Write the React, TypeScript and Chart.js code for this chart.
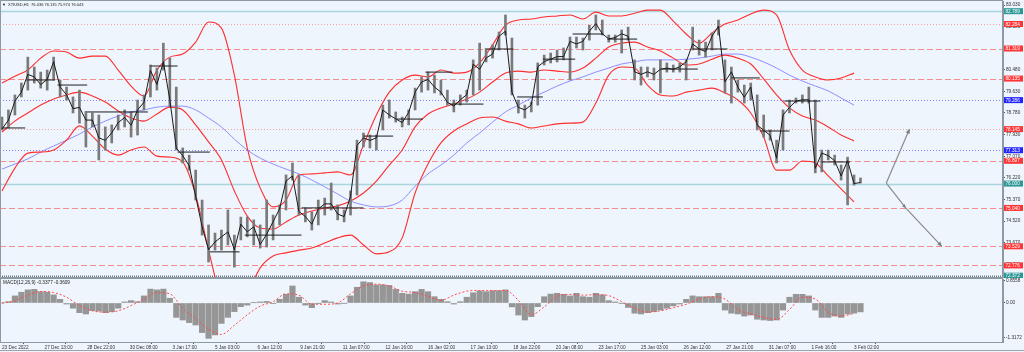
import React, { useEffect, useRef } from "react";
import { Chart, registerables } from "chart.js";

Chart.register(...registerables);

// ---------- data ----------
const xLabels = ["23 Dec 2022", "27 Dec 13:00", "28 Dec 22:00", "30 Dec 08:00", "3 Jan 17:00", "5 Jan 03:00", "6 Jan 12:00", "9 Jan 21:00", "11 Jan 07:00", "12 Jan 16:00", "16 Jan 02:00", "17 Jan 13:00", "18 Jan 22:00", "20 Jan 08:00", "23 Jan 17:00", "25 Jan 03:00", "26 Jan 12:00", "27 Jan 21:00", "31 Jan 07:00", "1 Feb 16:00", "3 Feb 02:00"];
const barsPerLabel = 33;
const priceStep = 5; // H1 bars per price sample
const bandStep = 10; // H1 bars per indicator sample

const highs = [78.62, 78.90, 79.49, 79.96, 80.98, 80.59, 80.39, 80.47, 80.98, 80.08,
  79.80, 79.41, 79.68, 78.78, 78.78, 78.70, 78.23, 78.31, 78.70, 78.90,
  78.82, 79.29, 79.49, 80.67, 80.55, 81.53, 80.94, 79.80, 77.40, 77.12,
  76.53, 75.35, 74.37, 74.05, 74.17, 74.96, 73.97, 74.68, 74.68, 74.57,
  74.37, 75.35, 74.76, 75.16, 76.34, 76.81, 76.34, 75.04, 74.88, 75.35,
  75.43, 76.02, 75.16, 74.96, 75.71, 77.71, 77.99, 77.91, 77.91, 79.09,
  79.29, 78.82, 78.62, 78.90, 79.76, 80.20, 80.39, 80.27, 80.08, 79.68,
  79.29, 79.49, 79.68, 80.87, 81.53, 81.26, 81.46, 81.97, 82.64, 81.73,
  79.29, 79.09, 79.21, 80.75, 81.06, 81.14, 81.26, 81.34, 81.77, 81.77,
  81.73, 82.24, 82.64, 82.44, 81.85, 81.85, 82.05, 82.16, 80.87, 80.59,
  80.59, 80.55, 80.87, 80.75, 80.67, 80.75, 80.87, 82.16, 81.65, 81.57,
  81.93, 82.44, 80.87, 80.59, 80.08, 79.88, 79.96, 79.49, 78.70, 78.11,
  77.71, 78.90, 79.29, 79.37, 79.49, 79.80, 79.29, 77.32, 77.32, 77.12,
  76.73, 77.04, 76.34, 76.22];

const lows = [78.11, 78.19, 78.70, 79.41, 79.68, 79.96, 79.76, 79.68, 80.08, 79.41,
  79.29, 78.78, 78.38, 77.44, 78.23, 76.93, 77.32, 77.60, 78.11, 78.23,
  77.83, 77.91, 78.90, 79.41, 79.68, 80.47, 79.01, 77.32, 76.81, 76.53,
  75.35, 73.97, 72.91, 73.38, 73.38, 73.58, 72.71, 73.78, 73.90, 73.58,
  73.46, 73.50, 73.78, 74.37, 74.96, 76.14, 74.76, 74.49, 74.17, 74.37,
  74.76, 74.96, 74.57, 74.49, 74.76, 75.55, 77.44, 77.40, 77.32, 78.11,
  78.58, 78.42, 78.23, 78.31, 78.90, 79.60, 79.68, 79.57, 79.49, 79.09,
  78.82, 79.09, 79.21, 79.49, 79.68, 80.79, 80.94, 81.26, 81.85, 79.49,
  78.78, 78.58, 78.82, 79.09, 80.67, 80.75, 80.79, 80.87, 80.08, 81.34,
  81.26, 81.65, 82.05, 81.85, 81.57, 81.57, 81.14, 81.65, 80.08, 79.88,
  80.20, 80.08, 79.57, 80.39, 80.39, 80.39, 80.08, 81.26, 81.06, 80.98,
  81.26, 81.85, 79.57, 79.17, 79.60, 79.17, 79.29, 78.11, 77.83, 77.71,
  76.81, 77.32, 78.78, 79.17, 79.17, 79.17, 76.42, 76.46, 76.93, 76.73,
  76.14, 75.16, 75.94, 76.02];

const closes = [78.15, 78.50, 79.25, 79.60, 80.30, 80.20, 79.90, 80.10, 80.80, 79.80,
  79.50, 78.95, 79.00, 78.50, 78.50, 77.80, 77.70, 78.00, 78.40, 78.60,
  78.30, 78.90, 79.20, 80.45, 79.90, 80.80, 79.30, 77.40, 77.10, 76.70,
  75.50, 74.30, 73.40, 73.70, 73.90, 74.10, 73.40, 74.40, 74.10, 74.30,
  73.60, 74.00, 74.50, 75.00, 76.10, 76.30, 74.90, 74.70, 74.40, 75.00,
  75.20, 75.20, 74.80, 74.70, 75.50, 77.50, 77.80, 77.70, 77.80, 78.90,
  78.70, 78.55, 78.40, 78.80, 79.60, 80.00, 80.10, 79.80, 79.60, 79.20,
  79.05, 79.30, 79.50, 80.70, 80.50, 80.95, 81.10, 81.80, 82.00, 79.60,
  79.00, 78.90, 79.10, 80.60, 80.80, 80.90, 81.00, 81.00, 81.60, 81.50,
  81.60, 82.00, 82.30, 81.90, 81.70, 81.75, 81.90, 81.80, 80.40, 80.30,
  80.40, 80.30, 80.50, 80.55, 80.50, 80.60, 80.80, 81.50, 81.30, 81.20,
  81.80, 82.20, 80.00, 80.40, 79.80, 79.40, 79.80, 78.30, 78.10, 77.90,
  77.00, 78.70, 79.00, 79.25, 79.30, 79.30, 76.60, 77.20, 77.10, 76.90,
  76.30, 76.90, 76.00, 76.04];

const upperBand = [79.96, 80.23, 80.47, 80.94, 81.22, 81.18, 80.94, 81.02, 81.02, 80.47,
  79.84, 79.45, 80.47, 80.98, 81.10, 81.57, 82.36, 82.12, 80.27, 77.40,
  75.83, 75.08, 75.35, 76.34, 76.38, 76.42, 76.46, 76.34, 77.52, 78.70,
  79.60, 80.08, 80.27, 80.20, 80.47, 80.35, 80.39, 80.75, 81.46, 82.24,
  82.44, 82.48, 82.56, 82.60, 82.64, 82.48, 82.75, 82.60, 82.60, 82.71,
  82.83, 82.83, 82.40, 81.89, 81.53, 81.93, 82.28, 82.44, 82.68, 82.83,
  82.64, 81.26, 80.47, 80.20, 80.08, 80.16, 80.35];

const midBand = [78.03, 78.46, 78.78, 79.09, 79.33, 79.49, 79.60, 79.45, 79.21, 78.86,
  78.58, 78.46, 78.74, 79.01, 78.90, 78.31, 77.64, 76.93, 75.71, 74.72,
  74.25, 74.21, 74.49, 74.76, 74.92, 75.04, 75.12, 75.31, 75.63, 76.10,
  76.73, 77.32, 78.23, 78.74, 78.98, 79.13, 79.33, 79.60, 80.00, 80.35,
  80.43, 80.39, 80.47, 80.43, 80.39, 80.55, 80.94, 81.38, 81.53, 81.57,
  81.38, 81.22, 80.94, 80.67, 80.71, 80.90, 81.06, 80.94, 80.71, 80.12,
  79.49, 78.98, 78.66, 78.50, 78.23, 77.91, 77.68];

const lowerBand = [75.71, 76.61, 77.20, 77.24, 77.32, 77.71, 78.27, 77.87, 77.36, 77.12,
  77.32, 77.44, 77.08, 77.04, 76.85, 75.55, 73.38, 71.42, 70.63, 71.61,
  72.68, 73.15, 73.27, 73.38, 73.46, 73.66, 73.86, 73.97, 73.58, 73.23,
  73.31, 73.86, 75.63, 76.77, 77.60, 78.07, 78.35, 78.58, 78.62, 78.46,
  78.35, 78.19, 78.27, 78.35, 78.38, 78.42, 79.17, 80.27, 80.59, 80.55,
  79.88, 79.49, 79.45, 79.60, 79.68, 79.76, 79.57, 79.29, 78.78, 77.83,
  76.53, 76.53, 76.89, 76.81, 76.30, 75.79, 75.28];

const slowMA = [76.57, 76.77, 76.97, 77.24, 77.48, 77.71, 77.95, 78.23, 78.46, 78.66,
  78.82, 78.90, 79.01, 79.05, 79.05, 78.90, 78.58, 78.23, 77.75, 77.32,
  77.00, 76.77, 76.57, 76.38, 76.14, 75.87, 75.59, 75.31, 75.16, 75.08,
  75.12, 75.35, 75.90, 76.38, 76.73, 77.12, 77.60, 77.99, 78.42, 78.82,
  79.09, 79.37, 79.60, 79.84, 80.04, 80.20, 80.39, 80.55, 80.71, 80.79,
  80.87, 80.87, 80.87, 80.90, 80.94, 81.02, 81.10, 81.10, 80.98, 80.79,
  80.55, 80.27, 80.04, 79.84, 79.65, 79.37, 79.09];

const macdHist = [0.00, 0.05, 0.27, 0.41, 0.50, 0.52, 0.43, 0.41, 0.31, 0.14,
  -0.04, -0.20, -0.37, -0.42, -0.29, -0.31, -0.37, -0.33, -0.20, 0.04,
  0.09, 0.05, 0.27, 0.53, 0.50, 0.53, 0.18, -0.55, -0.65, -0.75,
  -0.84, -1.13, -1.35, -1.22, -0.78, -0.55, -0.33, -0.14, -0.08, 0.01,
  0.04, 0.06, -0.01, 0.14, 0.33, 0.65, 0.22, -0.08, -0.18, -0.01,
  0.09, 0.04, -0.04, -0.01, 0.27, 0.60, 0.81, 0.78, 0.69, 0.69,
  0.67, 0.52, 0.37, 0.34, 0.43, 0.52, 0.43, 0.24, 0.14, 0.05,
  -0.04, 0.05, 0.22, 0.39, 0.46, 0.43, 0.47, 0.47, 0.50, -0.15,
  -0.46, -0.65, -0.52, -0.14, 0.24, 0.34, 0.37, 0.33, 0.27, 0.37,
  0.24, 0.22, 0.37, 0.31, 0.09, 0.04, -0.01, -0.17, -0.39, -0.42,
  -0.37, -0.33, -0.27, -0.20, -0.11, -0.04, 0.14, 0.27, 0.24, 0.24,
  0.24, 0.37, -0.27, -0.39, -0.42, -0.50, -0.46, -0.62, -0.65, -0.67,
  -0.65, -0.27, 0.22, 0.33, 0.33, 0.27, -0.27, -0.55, -0.55, -0.50,
  -0.55, -0.42, -0.39, -0.34];

const macdSignal = [0.00, 0.08, 0.30, 0.44, 0.40, 0.22, -0.10, -0.30, -0.35, -0.30,
  -0.10, 0.15, 0.40, 0.35, -0.20, -0.60, -1.00, -1.20, -0.85, -0.45,
  -0.12, 0.05, 0.35, 0.30, -0.05, -0.05, 0.00, 0.35, 0.65, 0.72,
  0.65, 0.45, 0.40, 0.25, 0.10, 0.30, 0.45, 0.48, 0.47, 0.48,
  0.10, -0.45, -0.15, 0.25, 0.33, 0.30, 0.32, 0.28, 0.05, -0.20,
  -0.35, -0.30, -0.18, -0.05, 0.15, 0.24, 0.15, -0.25, -0.42, -0.55,
  -0.63, -0.25, 0.22, 0.15, -0.35, -0.50, -0.40];

const dayOpenStart = [0, 19, 43, 64, 115, 136, 161, 188, 232, 280, 306, 328, 347, 374, 399, 419, 442, 469, 511, 535, 565, 587, 606, 635];
const dayOpenEnd = [18, 41, 66, 113, 136, 161, 184, 232, 280, 303, 326, 349, 373, 396, 419, 444, 466, 492, 539, 562, 587, 610, 634, 657];
const dayOpenPrice = [78.19, 80.08, 79.88, 78.82, 80.63, 77.24, 73.31, 73.97, 75.04, 77.87, 78.54, 80.39, 79.13, 81.30, 79.41, 80.90, 81.89, 81.69, 80.51, 81.30, 80.16, 78.07, 79.25, 76.85];

const levelPrices = [82.789, 82.284, 81.319, 80.135, 79.286, 78.145, 77.313, 76.897, 76.0, 75.04, 73.529, 72.776, 72.372];
const levelKinds = ["teal", "pink", "red", "red", "blue", "pink", "blue", "red", "teal", "red", "red", "red", "base"];

const priceTicks = [83.03, 82.18, 81.33, 80.48, 79.63, 78.78, 77.93, 77.07, 76.22, 75.37, 74.52, 73.67, 72.82];
const macdTicks = [0.8558, 0, -1.3172];
const macdTickLabels = ["0.8558", "0.00", "-1.3172"];

// projection arrows: [bar, price]
const arrowStart = [685, 76.02];
const arrowUpEnd = [703, 78.145];
const arrowDownMid = [700, 75.04];
const arrowDownEnd = [728, 73.529];

const headerText = "XTIUSD,H1  76.036 76.135 75.974 76.043";
const macdText = "MACD(12,26,9) -0.3377 -0.3609";

// ---------- styling ----------
const BG = "#eef5fc";
const FONT = "Liberation Sans";
const X_MIN = -1.55;
const X_MAX = 775.4;
const Y_MIN = 72.32;
const Y_MAX = 83.19;
const M_MIN = -1.49;
const M_MAX = 0.916;

const levelStyle: any = {
  teal: { line: "#a9d5df", width: 1.5, dash: [], bg: "#2c9896" },
  pink: { line: "#f5a0a0", width: 1, dash: [1, 2], bg: "#ff3434" },
  red: { line: "#f78c8c", width: 1, dash: [6, 3], bg: "#ff3434" },
  blue: { line: "#7f7fff", width: 1, dash: [1, 2], bg: "#2424ff" },
  base: { line: "#6d7d85", width: 2, dash: [1, 1], bg: "#2c9896" },
};

const bgPlugin = {
  id: "bgFill",
  beforeDraw(chart: any) {
    const { ctx, width, height } = chart;
    ctx.save();
    ctx.fillStyle = BG;
    ctx.fillRect(0, 0, width, height);
    ctx.restore();
  },
};

const framePlugin = {
  id: "frame",
  afterDraw(chart: any) {
    const { ctx, chartArea } = chart;
    ctx.save();
    ctx.strokeStyle = "#8e9aa3";
    ctx.lineWidth = 1;
    ctx.strokeRect(chartArea.left + 0.5, chartArea.top - 0.5, chartArea.right - chartArea.left - 1, chartArea.bottom - chartArea.top + 1);
    ctx.restore();
  },
};

const levelPlugin = {
  id: "levels",
  beforeDatasetsDraw(chart: any) {
    const { ctx, chartArea, scales } = chart;
    ctx.save();
    levelPrices.forEach((p, i) => {
      const st = levelStyle[levelKinds[i]];
      const py = Math.round(scales.y.getPixelForValue(p)) + 0.5;
      ctx.strokeStyle = st.line;
      ctx.lineWidth = st.width;
      ctx.setLineDash(st.dash);
      ctx.beginPath();
      ctx.moveTo(chartArea.left, py);
      ctx.lineTo(chartArea.right, py);
      ctx.stroke();
    });
    ctx.restore();
  },
  afterDraw(chart: any) {
    const { ctx, chartArea, scales } = chart;
    ctx.save();
    ctx.font = `4.7px "${FONT}"`;
    ctx.textBaseline = "middle";
    levelPrices.forEach((p, i) => {
      const st = levelStyle[levelKinds[i]];
      const py = scales.y.getPixelForValue(p);
      ctx.fillStyle = st.bg;
      ctx.fillRect(chartArea.right + 1, py - 3, 19, 6);
      ctx.fillStyle = "#ffffff";
      ctx.fillText(p.toFixed(3), chartArea.right + 2.5, py + 0.3);
    });
    ctx.fillStyle = "#222";
    ctx.font = `4px "${FONT}"`;
    ctx.fillText("\u25BC", 2, 5);
    ctx.fillText(headerText, 8, 5);
    ctx.restore();
  },
};

function head(ctx: any, x0: number, y0: number, x1: number, y1: number, size: number) {
  const a = Math.atan2(y1 - y0, x1 - x0);
  ctx.beginPath();
  ctx.moveTo(x1, y1);
  ctx.lineTo(x1 - size * Math.cos(a - 0.45), y1 - size * Math.sin(a - 0.45));
  ctx.lineTo(x1 - size * Math.cos(a + 0.45), y1 - size * Math.sin(a + 0.45));
  ctx.closePath();
  ctx.fill();
}

const arrowPlugin = {
  id: "arrows",
  afterDatasetsDraw(chart: any) {
    const { ctx, scales } = chart;
    const px = (p: number[]) => [scales.x.getPixelForValue(p[0]), scales.y.getPixelForValue(p[1])];
    const s = px(arrowStart);
    const u = px(arrowUpEnd);
    const m = px(arrowDownMid);
    const d = px(arrowDownEnd);
    ctx.save();
    ctx.strokeStyle = "#8c8c8c";
    ctx.fillStyle = "#7c7c7c";
    ctx.lineWidth = 1.2;
    ctx.beginPath();
    ctx.moveTo(s[0], s[1]);
    ctx.lineTo(u[0], u[1]);
    ctx.moveTo(s[0], s[1]);
    ctx.lineTo(m[0], m[1]);
    ctx.lineTo(d[0], d[1]);
    ctx.stroke();
    head(ctx, s[0], s[1], u[0], u[1], 5);
    head(ctx, s[0], s[1], m[0], m[1], 4);
    head(ctx, m[0], m[1], d[0], d[1], 5);
    ctx.restore();
  },
};

const macdTextPlugin = {
  id: "macdText",
  afterDraw(chart: any) {
    const { ctx, chartArea, width, height } = chart;
    ctx.save();
    ctx.fillStyle = "#222";
    ctx.font = `4.7px "${FONT}"`;
    ctx.textBaseline = "middle";
    ctx.fillText(macdText, 3, chartArea.top + 3.5);
    ctx.strokeStyle = "#9aa4ab";
    ctx.lineWidth = 1;
    ctx.beginPath();
    ctx.moveTo(0, height - 1.5);
    ctx.lineTo(width, height - 1.5);
    ctx.stroke();
    ctx.restore();
  },
};

const noPad = (s: any) => {
  s.paddingTop = 0;
  s.paddingBottom = 0;
  s.paddingLeft = 0;
  s.paddingRight = 0;
};

const tickFont = { size: 4.7, family: FONT };

export default function App() {
  const mainRef = useRef<HTMLCanvasElement | null>(null);
  const macdRef = useRef<HTMLCanvasElement | null>(null);

  useEffect(() => {
    document.body.style.margin = "0";
    const ohlc = highs.map((h, i) => ({ x: i * priceStep, y: [lows[i], h] }));
    const closePts = closes.map((c, i) => ({ x: i * priceStep, y: c }));
    const band = (arr: number[]) => arr.map((v, k) => ({ x: k * bandStep, y: v }));
    const dayOpenPts: any[] = [];
    dayOpenStart.forEach((s, i) => {
      dayOpenPts.push({ x: s, y: dayOpenPrice[i] }, { x: dayOpenEnd[i], y: dayOpenPrice[i] }, { x: dayOpenEnd[i], y: null });
    });

    const lineDs = (data: any[], color: string, width: number, order: number, extra: any = {}) => ({
      type: "line",
      data,
      borderColor: color,
      borderWidth: width,
      pointRadius: 0,
      fill: false,
      order,
      cubicInterpolationMode: "monotone",
      ...extra,
    });

    const main = new Chart(mainRef.current as HTMLCanvasElement, {
      type: "bar",
      data: {
        datasets: [
          lineDs(dayOpenPts, "#1e1e1e", 1, 1, { spanGaps: false, cubicInterpolationMode: "default", tension: 0 }),
          lineDs(closePts, "#1a1a1a", 1, 2, { cubicInterpolationMode: "default", tension: 0 }),
          {
            type: "bar",
            data: ohlc,
            backgroundColor: "#7a7a7a",
            barThickness: 2,
            grouped: false,
            order: 3,
          },
          lineDs(band(upperBand), "#ff2d2d", 1.1, 4),
          lineDs(band(midBand), "#ff2d2d", 1.1, 4),
          lineDs(band(lowerBand), "#ff2d2d", 1.1, 4),
          lineDs(band(slowMA), "#8f8fff", 1, 5),
        ] as any,
      },
      options: {
        animation: false,
        responsive: false,
        events: [],
        layout: { padding: { top: 1, bottom: 1, left: 0, right: 0 }, autoPadding: false } as any,
        plugins: { legend: { display: false }, tooltip: { enabled: false } },
        scales: {
          x: { type: "linear", display: false, min: X_MIN, max: X_MAX, offset: false },
          y: {
            position: "right",
            min: Y_MIN,
            max: Y_MAX,
            afterBuildTicks: (s: any) => {
              s.ticks = priceTicks.map((v) => ({ value: v }));
            },
            afterFit: (s: any) => {
              s.width = 21;
              noPad(s);
            },
            ticks: {
              autoSkip: false,
              padding: 1,
              color: "#333",
              font: tickFont,
              callback: (v: any) => Number(v).toFixed(3),
            },
            grid: { drawOnChartArea: false, drawTicks: true, tickLength: 2, color: "#555" },
            border: { display: true, color: "#8e9aa3" },
          },
        } as any,
      },
      plugins: [bgPlugin, levelPlugin, arrowPlugin, framePlugin],
    });

    const macd = new Chart(macdRef.current as HTMLCanvasElement, {
      type: "bar",
      data: {
        datasets: [
          lineDs(band(macdSignal), "#ff4a4a", 1, 1, { borderDash: [2, 2] }),
          {
            type: "bar",
            data: macdHist.map((v, i) => ({ x: i * priceStep, y: v })),
            backgroundColor: "#969696",
            barThickness: 5.5,
            grouped: false,
            order: 2,
          },
        ] as any,
      },
      options: {
        animation: false,
        responsive: false,
        events: [],
        layout: { padding: { top: 1, bottom: 0, left: 0, right: 0 }, autoPadding: false } as any,
        plugins: { legend: { display: false }, tooltip: { enabled: false } },
        scales: {
          x: {
            type: "linear",
            position: "bottom",
            min: X_MIN,
            max: X_MAX,
            offset: false,
            afterBuildTicks: (s: any) => {
              s.ticks = xLabels.map((_, j) => ({ value: j * barsPerLabel }));
            },
            afterFit: (s: any) => {
              s.height = 10;
              noPad(s);
            },
            ticks: {
              autoSkip: false,
              maxRotation: 0,
              minRotation: 0,
              align: "start",
              padding: 1,
              color: "#333",
              font: tickFont,
              callback: (_v: any, i: number) => xLabels[i],
            },
            grid: { drawOnChartArea: false, drawTicks: true, tickLength: 2, color: "#555" },
            border: { display: true, color: "#8e9aa3" },
          },
          y: {
            position: "right",
            min: M_MIN,
            max: M_MAX,
            afterBuildTicks: (s: any) => {
              s.ticks = macdTicks.map((v) => ({ value: v }));
            },
            afterFit: (s: any) => {
              s.width = 21;
              noPad(s);
            },
            ticks: {
              autoSkip: false,
              padding: 1,
              color: "#333",
              font: tickFont,
              callback: (_v: any, i: number) => macdTickLabels[i],
            },
            grid: { drawOnChartArea: false, drawTicks: true, tickLength: 2, color: "#555" },
            border: { display: true, color: "#8e9aa3" },
          },
        } as any,
      },
      plugins: [bgPlugin, framePlugin, macdTextPlugin],
    });

    return () => {
      main.destroy();
      macd.destroy();
    };
  }, []);

  return (
    <div style={{ position: "fixed", left: 0, top: 0, width: 1024, height: 352, background: BG, overflow: "hidden" }}>
      <canvas ref={mainRef} width={1024} height={278} style={{ position: "absolute", left: 0, top: 0, display: "block" }} />
      <canvas ref={macdRef} width={1024} height={74} style={{ position: "absolute", left: 0, top: 278, display: "block" }} />
    </div>
  );
}
